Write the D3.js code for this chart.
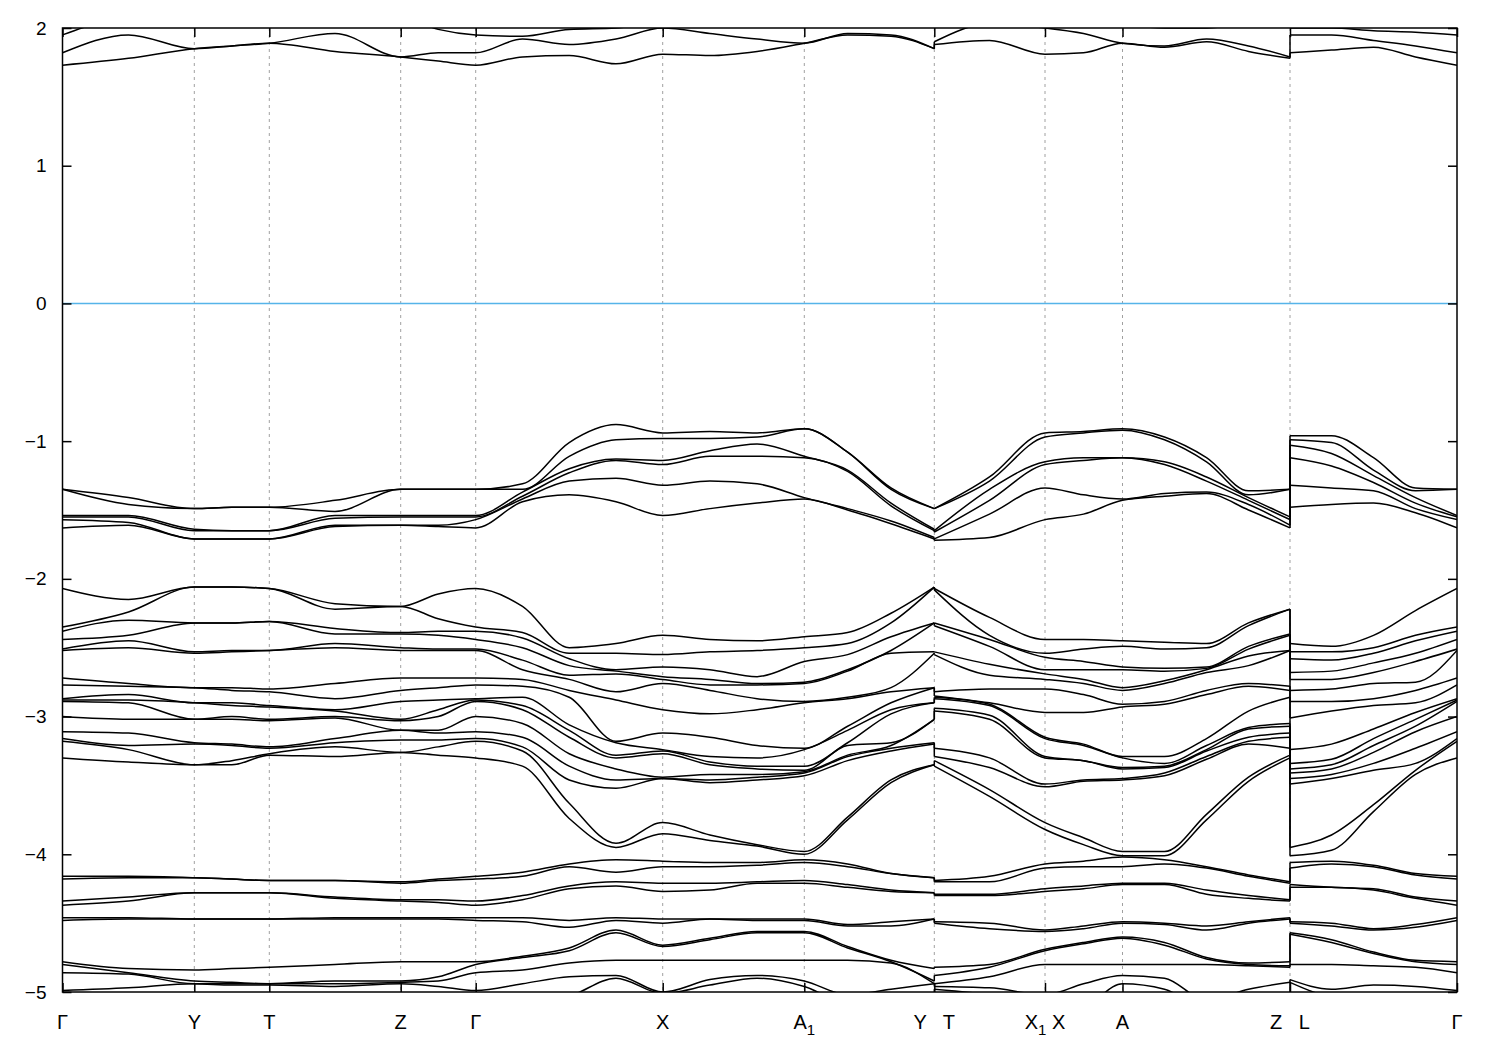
<!DOCTYPE html>
<html><head><meta charset="utf-8">
<script src="https://cdn.jsdelivr.net/npm/d3@7"></script>
<style>body{margin:0;background:#fff}</style>
</head><body>
<svg id="chart" width="1500" height="1050"></svg>
<script>
// ---------- k-path (high-symmetry points) ----------
const kTicks  = [0, 1.318, 2.068, 3.382, 4.132, 6.002, 7.418, 8.718, 9.825, 10.6, 12.275, 13.945];
const kLabels = ["Γ","Y","T","Z","Γ","X","A_1","Y   T","X_1 X","A","Z   L","Γ"];
const eTicks  = [2, 1, 0, -1, -2, -3, -4, -5];

// sample k-points of the three continuous pieces of the path
const kP1 = [0, 0.66, 1.318, 1.693, 2.068, 2.725, 3.382, 3.757, 4.132, 4.6, 5.067, 5.535, 6.002, 6.474, 6.946, 7.418, 7.851, 8.285, 8.718];
const kP2 = [8.718, 9.27, 9.825, 10.21, 10.6, 11.02, 11.44, 11.86, 12.275];
const kP3 = [12.275, 12.69, 13.11, 13.53, 13.945];

// ---------- conduction bands near 2 eV (one row per band) ----------
const condP1 = [
  [1.73,1.78,1.85,1.87,1.89,1.83,1.79,1.76,1.73,1.79,1.80,1.74,1.81,1.80,1.83,1.89,1.95,1.94,1.85],
  [1.82,1.95,1.85,1.87,1.89,1.96,1.79,1.82,1.82,1.92,1.88,1.92,2.00,1.96,1.92,1.89,1.96,1.95,1.85],
  [1.95,2.08,2.10,2.10,2.08,2.05,2.08,1.99,1.95,1.94,1.99,2.00,2.05,2.08,2.10,2.10,2.10,2.10,2.10]
];
const condP2 = [
  [1.88,1.91,1.81,1.82,1.89,1.86,1.90,1.83,1.78],
  [1.90,2.03,2.00,1.96,1.89,1.87,1.92,1.87,1.79],
  [2.05,2.10,2.10,2.08,2.03,2.00,2.00,2.04,2.08]
];
const condP3 = [
  [1.82,1.84,1.86,1.79,1.73],
  [1.95,1.95,1.91,1.87,1.82],
  [2.00,2.00,1.98,1.97,1.95]
];

// ---------- top valence bands (-0.9 .. -1.7 eV), one row per band ----------
const topP1 = [
  [-1.35,-1.41,-1.49,-1.48,-1.48,-1.43,-1.35,-1.35,-1.35,-1.31,-1.01,-0.88,-0.94,-0.93,-0.94,-0.91,-1.08,-1.34,-1.49],
  [-1.35,-1.46,-1.49,-1.48,-1.48,-1.51,-1.35,-1.35,-1.35,-1.35,-1.11,-0.99,-0.98,-0.98,-0.97,-0.91,-1.08,-1.35,-1.49],
  [-1.54,-1.54,-1.64,-1.65,-1.65,-1.54,-1.54,-1.54,-1.54,-1.37,-1.20,-1.13,-1.14,-1.07,-1.02,-1.11,-1.21,-1.45,-1.64],
  [-1.55,-1.55,-1.65,-1.65,-1.65,-1.56,-1.55,-1.55,-1.55,-1.40,-1.23,-1.14,-1.17,-1.11,-1.11,-1.12,-1.22,-1.47,-1.65],
  [-1.57,-1.59,-1.71,-1.71,-1.71,-1.61,-1.61,-1.61,-1.57,-1.42,-1.29,-1.27,-1.32,-1.29,-1.31,-1.41,-1.49,-1.58,-1.70],
  [-1.63,-1.61,-1.71,-1.71,-1.71,-1.62,-1.61,-1.62,-1.63,-1.44,-1.39,-1.44,-1.54,-1.49,-1.45,-1.42,-1.50,-1.60,-1.71]
];
const topP2 = [
  [-1.49,-1.26,-0.94,-0.93,-0.91,-0.97,-1.12,-1.36,-1.35],
  [-1.49,-1.29,-0.97,-0.94,-0.92,-0.99,-1.15,-1.39,-1.35],
  [-1.65,-1.35,-1.15,-1.12,-1.12,-1.15,-1.26,-1.41,-1.55],
  [-1.66,-1.43,-1.17,-1.14,-1.12,-1.17,-1.29,-1.43,-1.57],
  [-1.71,-1.53,-1.34,-1.39,-1.42,-1.38,-1.37,-1.46,-1.61],
  [-1.72,-1.70,-1.57,-1.53,-1.43,-1.40,-1.38,-1.50,-1.63]
];
const topP3 = [
  [-0.96,-0.96,-1.12,-1.34,-1.35],
  [-0.99,-1.01,-1.21,-1.36,-1.35],
  [-1.03,-1.09,-1.25,-1.41,-1.54],
  [-1.12,-1.18,-1.30,-1.45,-1.55],
  [-1.32,-1.34,-1.36,-1.49,-1.57],
  [-1.48,-1.46,-1.45,-1.52,-1.63]
];

// ---------- middle valence bands (-2 .. -4 eV): one row per k-point (sorted levels) ----------
const midP1 = [
  [-2.07,-2.35,-2.38,-2.44,-2.51,-2.52,-2.72,-2.77,-2.87,-2.88,-2.89,-3.00,-3.11,-3.16,-3.18,-3.30],
  [-2.15,-2.24,-2.30,-2.41,-2.45,-2.50,-2.76,-2.78,-2.84,-2.88,-2.90,-3.02,-3.12,-3.21,-3.24,-3.33],
  [-2.06,-2.06,-2.32,-2.32,-2.53,-2.54,-2.79,-2.79,-2.90,-2.90,-3.02,-3.02,-3.19,-3.20,-3.35,-3.35],
  [-2.06,-2.06,-2.32,-2.32,-2.52,-2.53,-2.79,-2.81,-2.90,-2.92,-3.00,-3.02,-3.20,-3.21,-3.32,-3.35],
  [-2.07,-2.07,-2.31,-2.31,-2.52,-2.52,-2.80,-2.82,-2.92,-2.93,-3.02,-3.03,-3.22,-3.23,-3.27,-3.28],
  [-2.18,-2.22,-2.36,-2.40,-2.47,-2.50,-2.76,-2.87,-2.95,-2.96,-3.00,-3.01,-3.16,-3.19,-3.22,-3.29],
  [-2.20,-2.20,-2.39,-2.40,-2.50,-2.52,-2.72,-2.81,-2.89,-3.02,-3.03,-3.10,-3.10,-3.17,-3.26,-3.26],
  [-2.11,-2.29,-2.38,-2.41,-2.51,-2.52,-2.72,-2.79,-2.88,-2.95,-3.00,-3.10,-3.12,-3.17,-3.22,-3.28],
  [-2.07,-2.35,-2.38,-2.44,-2.51,-2.52,-2.72,-2.77,-2.87,-2.88,-2.89,-3.00,-3.11,-3.16,-3.18,-3.30],
  [-2.20,-2.39,-2.43,-2.50,-2.59,-2.66,-2.73,-2.78,-2.86,-2.92,-2.95,-3.05,-3.15,-3.22,-3.25,-3.36],
  [-2.50,-2.54,-2.58,-2.63,-2.70,-2.73,-2.81,-2.86,-3.06,-3.10,-3.15,-3.27,-3.36,-3.46,-3.63,-3.74],
  [-2.47,-2.54,-2.66,-2.67,-2.69,-2.82,-2.88,-3.18,-3.19,-3.28,-3.30,-3.38,-3.46,-3.52,-3.92,-3.95],
  [-2.41,-2.55,-2.64,-2.71,-2.73,-2.76,-2.95,-3.12,-3.24,-3.25,-3.27,-3.44,-3.45,-3.45,-3.77,-3.85],
  [-2.44,-2.53,-2.66,-2.73,-2.77,-2.81,-2.98,-3.15,-3.29,-3.33,-3.35,-3.42,-3.46,-3.48,-3.86,-3.90],
  [-2.45,-2.52,-2.71,-2.76,-2.77,-2.87,-2.95,-3.21,-3.30,-3.36,-3.38,-3.42,-3.44,-3.46,-3.93,-3.94],
  [-2.42,-2.50,-2.60,-2.75,-2.76,-2.89,-2.90,-3.23,-3.24,-3.36,-3.39,-3.40,-3.41,-3.43,-3.98,-4.00],
  [-2.39,-2.47,-2.55,-2.66,-2.67,-2.86,-2.87,-3.07,-3.10,-3.19,-3.21,-3.28,-3.29,-3.32,-3.73,-3.75],
  [-2.25,-2.32,-2.42,-2.52,-2.54,-2.79,-2.82,-2.90,-2.95,-2.98,-3.19,-3.21,-3.23,-3.25,-3.46,-3.48],
  [-2.06,-2.06,-2.32,-2.32,-2.53,-2.54,-2.79,-2.79,-2.90,-2.90,-3.02,-3.02,-3.19,-3.20,-3.35,-3.35]
];
const midP2 = [
  [-2.07,-2.08,-2.32,-2.34,-2.53,-2.55,-2.82,-2.85,-2.86,-2.87,-2.94,-2.96,-3.23,-3.29,-3.32,-3.36],
  [-2.28,-2.41,-2.44,-2.49,-2.62,-2.70,-2.80,-2.90,-2.91,-2.92,-2.99,-3.02,-3.30,-3.37,-3.53,-3.58],
  [-2.44,-2.54,-2.57,-2.66,-2.69,-2.73,-2.80,-2.97,-3.15,-3.16,-3.29,-3.30,-3.49,-3.51,-3.77,-3.82],
  [-2.44,-2.51,-2.60,-2.66,-2.73,-2.76,-2.84,-2.97,-3.20,-3.21,-3.32,-3.32,-3.46,-3.47,-3.88,-3.93],
  [-2.45,-2.49,-2.64,-2.66,-2.79,-2.81,-2.91,-2.93,-3.29,-3.30,-3.37,-3.38,-3.45,-3.46,-3.98,-4.01],
  [-2.46,-2.51,-2.65,-2.67,-2.74,-2.76,-2.89,-2.91,-3.29,-3.34,-3.36,-3.37,-3.41,-3.43,-3.98,-4.01],
  [-2.47,-2.50,-2.64,-2.65,-2.66,-2.68,-2.81,-2.84,-3.16,-3.21,-3.24,-3.25,-3.29,-3.31,-3.71,-3.75],
  [-2.32,-2.34,-2.49,-2.51,-2.56,-2.63,-2.76,-2.78,-2.96,-3.08,-3.09,-3.15,-3.18,-3.20,-3.44,-3.47],
  [-2.22,-2.22,-2.40,-2.41,-2.52,-2.52,-2.78,-2.81,-2.86,-3.05,-3.07,-3.12,-3.15,-3.23,-3.28,-3.30]
];
const midP3 = [
  [-2.47,-2.53,-2.58,-2.68,-2.73,-2.81,-2.89,-3.01,-3.24,-3.34,-3.38,-3.41,-3.45,-3.49,-3.95,-4.01],
  [-2.49,-2.53,-2.59,-2.67,-2.73,-2.80,-2.89,-2.96,-3.20,-3.31,-3.35,-3.38,-3.42,-3.45,-3.86,-3.97],
  [-2.41,-2.50,-2.54,-2.61,-2.68,-2.76,-2.87,-2.92,-3.09,-3.16,-3.21,-3.26,-3.34,-3.39,-3.64,-3.69],
  [-2.23,-2.41,-2.45,-2.54,-2.60,-2.75,-2.81,-2.90,-2.97,-3.02,-3.07,-3.11,-3.23,-3.34,-3.39,-3.42],
  [-2.07,-2.35,-2.38,-2.44,-2.51,-2.52,-2.72,-2.77,-2.87,-2.88,-2.89,-3.00,-3.11,-3.16,-3.18,-3.30]
];

// ---------- bands near -4.2 eV (one row per band) ----------
const lowP1 = [
  [-4.16,-4.16,-4.17,-4.18,-4.19,-4.19,-4.20,-4.18,-4.16,-4.13,-4.07,-4.04,-4.05,-4.06,-4.06,-4.04,-4.07,-4.14,-4.17],
  [-4.18,-4.17,-4.17,-4.18,-4.19,-4.19,-4.21,-4.19,-4.18,-4.16,-4.09,-4.13,-4.09,-4.09,-4.08,-4.06,-4.09,-4.14,-4.17],
  [-4.34,-4.31,-4.28,-4.28,-4.28,-4.31,-4.33,-4.33,-4.34,-4.30,-4.23,-4.20,-4.21,-4.21,-4.20,-4.19,-4.22,-4.26,-4.28],
  [-4.37,-4.34,-4.28,-4.28,-4.28,-4.32,-4.34,-4.35,-4.37,-4.33,-4.25,-4.23,-4.27,-4.26,-4.21,-4.21,-4.24,-4.27,-4.28]
];
const lowP2 = [
  [-4.19,-4.16,-4.07,-4.05,-4.02,-4.04,-4.09,-4.15,-4.20],
  [-4.20,-4.20,-4.10,-4.09,-4.09,-4.07,-4.10,-4.16,-4.21],
  [-4.29,-4.29,-4.25,-4.23,-4.21,-4.21,-4.26,-4.30,-4.33],
  [-4.30,-4.30,-4.27,-4.25,-4.22,-4.22,-4.29,-4.32,-4.34]
];
const lowP3 = [
  [-4.06,-4.05,-4.08,-4.14,-4.16],
  [-4.10,-4.07,-4.09,-4.15,-4.18],
  [-4.22,-4.24,-4.25,-4.31,-4.34],
  [-4.24,-4.24,-4.26,-4.32,-4.37]
];

// ---------- deep bands (-4.4 .. -5 eV, one row per band) ----------
const deepP1 = [
  [-4.46,-4.46,-4.47,-4.47,-4.47,-4.46,-4.46,-4.46,-4.46,-4.46,-4.48,-4.46,-4.47,-4.47,-4.47,-4.47,-4.51,-4.49,-4.47],
  [-4.48,-4.47,-4.47,-4.47,-4.47,-4.47,-4.47,-4.47,-4.48,-4.49,-4.53,-4.48,-4.50,-4.47,-4.48,-4.48,-4.52,-4.52,-4.47],
  [-4.78,-4.83,-4.84,-4.83,-4.82,-4.80,-4.78,-4.78,-4.78,-4.74,-4.68,-4.55,-4.66,-4.61,-4.56,-4.56,-4.67,-4.77,-4.83],
  [-4.80,-4.86,-4.92,-4.93,-4.94,-4.92,-4.92,-4.89,-4.80,-4.75,-4.70,-4.57,-4.67,-4.62,-4.57,-4.57,-4.68,-4.78,-4.92],
  [-4.86,-4.87,-4.94,-4.94,-4.94,-4.94,-4.93,-4.92,-4.86,-4.84,-4.79,-4.77,-4.77,-4.77,-4.77,-4.77,-4.77,-4.79,-4.94],
  [-4.99,-4.97,-4.94,-4.95,-4.95,-4.96,-4.94,-4.96,-4.99,-4.94,-4.89,-4.88,-5.00,-4.91,-4.88,-4.92,-5.02,-4.98,-4.94],
  [-5.08,-5.08,-5.02,-5.05,-5.05,-5.08,-5.02,-5.08,-5.08,-5.08,-5.03,-4.90,-5.01,-4.95,-4.90,-4.96,-5.08,-5.08,-5.02]
];
const deepP2 = [
  [-4.49,-4.50,-4.55,-4.52,-4.49,-4.50,-4.52,-4.49,-4.46],
  [-4.50,-4.54,-4.56,-4.54,-4.50,-4.51,-4.55,-4.50,-4.47],
  [-4.82,-4.80,-4.69,-4.64,-4.60,-4.64,-4.75,-4.79,-4.78],
  [-4.88,-4.82,-4.70,-4.65,-4.61,-4.66,-4.76,-4.80,-4.81],
  [-4.94,-4.89,-4.80,-4.80,-4.80,-4.80,-4.80,-4.81,-4.82],
  [-4.96,-4.97,-5.02,-4.94,-4.88,-4.90,-5.06,-4.98,-4.93],
  [-4.98,-5.02,-5.09,-5.09,-4.94,-4.98,-5.11,-5.11,-5.02]
];
const deepP3 = [
  [-4.49,-4.50,-4.54,-4.51,-4.46],
  [-4.50,-4.52,-4.55,-4.53,-4.48],
  [-4.57,-4.62,-4.71,-4.77,-4.78],
  [-4.58,-4.64,-4.72,-4.78,-4.80],
  [-4.80,-4.80,-4.81,-4.82,-4.86],
  [-4.91,-4.98,-4.95,-4.96,-4.99],
  [-4.93,-5.04,-5.07,-5.02,-5.08]
];

// ---------- drawing ----------
const W = 1500, H = 1050;
const plot = {left: 62.5, right: 1457, top: 28, bottom: 992};
const x = d3.scaleLinear().domain([kTicks[0], kTicks[kTicks.length - 1]]).range([plot.left, plot.right]);
const y = d3.scaleLinear().domain([-5, 2]).range([plot.bottom, plot.top]);

const svg = d3.select("#chart");
svg.append("rect").attr("width", W).attr("height", H).attr("fill", "#fff");
svg.append("defs").append("clipPath").attr("id", "clip")
  .append("rect").attr("x", plot.left).attr("y", plot.top)
  .attr("width", plot.right - plot.left).attr("height", plot.bottom - plot.top);

// dashed verticals at inner high-symmetry points
svg.append("g").selectAll("line").data(kTicks.slice(1, -1)).join("line")
  .attr("x1", d => x(d)).attr("x2", d => x(d))
  .attr("y1", y(2)).attr("y2", y(-5))
  .attr("stroke", "#a0a0a0").attr("stroke-width", 1).attr("stroke-dasharray", "3,4");

// Fermi level
svg.append("line").attr("x1", x.range()[0]).attr("x2", x.range()[1])
  .attr("y1", y(0)).attr("y2", y(0)).attr("stroke", "#56b4e9").attr("stroke-width", 1.5);

const bandsG = svg.append("g").attr("clip-path", "url(#clip)")
  .attr("fill", "none").attr("stroke", "#000").attr("stroke-width", 1.5);

const curve = d3.line().x(d => x(d[0])).y(d => y(d[1])).curve(d3.curveMonotoneX);
const straight = d3.line().x(d => x(d[0])).y(d => y(d[1]));
const byBand = levels => levels[0].map((_, i) => levels.map(row => row[i]));

function drawGroup(p1, p2, p3) {
  [[p1, kP1], [p2, kP2], [p3, kP3]].forEach(([bands, ks]) => {
    bands.forEach(b => bandsG.append("path").attr("d", curve(ks.map((k, i) => [k, b[i]]))));
  });
  // discontinuities Y|T and Z|L
  [[p1, p2, kP1[kP1.length - 1]], [p2, p3, kP2[kP2.length - 1]]].forEach(([a, b, k]) => {
    a.forEach((band, i) => bandsG.append("path")
      .attr("d", straight([[k, band[band.length - 1]], [k, b[i][0]]])));
  });
}
drawGroup(condP1, condP2, condP3);
drawGroup(topP1, topP2, topP3);
drawGroup(byBand(midP1), byBand(midP2), byBand(midP3));
drawGroup(lowP1, lowP2, lowP3);
drawGroup(deepP1, deepP2, deepP3);

// axes (inward ticks)
const font = "'Liberation Sans', Arial, sans-serif";
const tick = 9;
const axL = svg.append("g").attr("transform", `translate(${plot.left},0)`)
  .call(d3.axisLeft(y).tickValues(eTicks).tickSize(-tick).tickPadding(16).tickFormat(d3.format("d")));
const axR = svg.append("g").attr("transform", `translate(${plot.right},0)`)
  .call(d3.axisRight(y).tickValues(eTicks).tickSize(-tick).tickFormat(""));
const axB = svg.append("g").attr("transform", `translate(0,${plot.bottom})`)
  .call(d3.axisBottom(x).tickValues(kTicks).tickSize(-tick).tickFormat(""));
const axT = svg.append("g").attr("transform", `translate(0,${plot.top})`)
  .call(d3.axisTop(x).tickValues(kTicks).tickSize(-tick).tickFormat(""));
[axL, axR, axB, axT].forEach(a => {
  a.select(".domain").remove();
  a.selectAll(".tick line").attr("stroke", "#000").attr("stroke-width", 1.5);
});
axL.selectAll("text").attr("font-size", 19).attr("font-family", font).attr("fill", "#000");

// frame
svg.append("rect").attr("x", plot.left).attr("y", plot.top)
  .attr("width", plot.right - plot.left).attr("height", plot.bottom - plot.top)
  .attr("fill", "none").attr("stroke", "#000").attr("stroke-width", 1.5);

// k-point labels (with subscripts written as _1)
const labG = svg.append("g").attr("font-family", font).attr("font-size", 20).attr("fill", "#000");
kTicks.forEach((k, i) => {
  const t = labG.append("text").attr("x", x(k)).attr("y", 1029)
    .attr("text-anchor", "middle").style("white-space", "pre");
  let shifted = false;
  kLabels[i].split(/(_\w)/).filter(s => s.length).forEach(part => {
    if (part[0] === "_") {
      t.append("tspan").attr("dy", 6).attr("font-size", 15).text(part.slice(1));
      shifted = true;
    } else {
      const ts = t.append("tspan").text(part);
      if (shifted) { ts.attr("dy", -6); shifted = false; }
    }
  });
});
</script>
</body></html>
